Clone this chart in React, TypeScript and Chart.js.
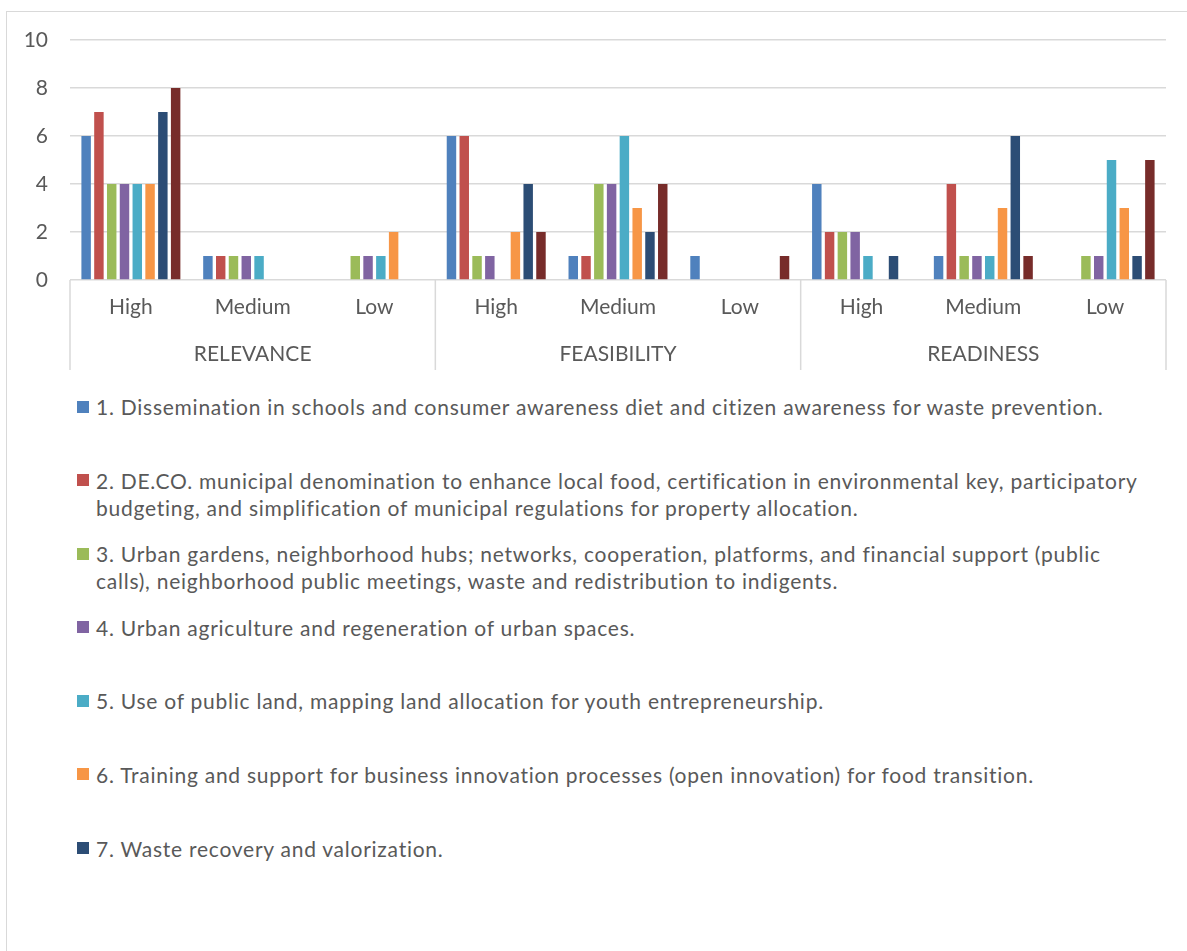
import React, { useEffect, useRef } from "react";
import { Chart, registerables } from "chart.js";

Chart.register(...registerables);

// ---- Data ----
const subCategories = ["High", "Medium", "Low", "High", "Medium", "Low", "High", "Medium", "Low"];
const groups = ["RELEVANCE", "FEASIBILITY", "READINESS"];
const yTicks = [0, 2, 4, 6, 8, 10];

const seriesNames = [
  "1. Dissemination in schools and consumer awareness diet and citizen awareness for waste prevention.",
  "2. DE.CO. municipal denomination to enhance local food, certification in environmental key, participatory budgeting, and simplification of municipal regulations for property allocation.",
  "3. Urban gardens, neighborhood hubs; networks, cooperation, platforms, and financial support (public calls), neighborhood public meetings, waste and redistribution to indigents.",
  "4. Urban agriculture and regeneration of urban spaces.",
  "5. Use of public land, mapping land allocation for youth entrepreneurship.",
  "6. Training and support for business innovation processes (open innovation) for food transition.",
  "7. Waste recovery and valorization.",
  "8.",
];
const legendCount = 7;

const series1 = [6, 1, 0, 6, 1, 1, 4, 1, 0];
const series2 = [7, 1, 0, 6, 1, 0, 2, 4, 0];
const series3 = [4, 1, 1, 1, 4, 0, 2, 1, 1];
const series4 = [4, 1, 1, 1, 4, 0, 2, 1, 1];
const series5 = [4, 1, 1, 0, 6, 0, 1, 1, 5];
const series6 = [4, 0, 2, 2, 3, 0, 0, 3, 3];
const series7 = [7, 0, 0, 4, 2, 0, 1, 6, 1];
const series8 = [8, 0, 0, 2, 4, 1, 0, 1, 5];
const allSeries = [series1, series2, series3, series4, series5, series6, series7, series8];

const colors = ["#4F81BD", "#C0504D", "#9BBB59", "#8064A2", "#4BACC6", "#F79646", "#2C4D75", "#772C2A"];

const TEXT = "#595959";
const GRID = "#d9d9d9";
const FONT = "Lato";

const separatorPlugin = {
  id: "groupSeparators",
  afterDraw(chart: any) {
    const x = chart.scales.x;
    const x2 = chart.scales.x2;
    const ctx = chart.ctx;
    const n = x.getLabels().length;
    const per = n / groups.length;
    ctx.save();
    ctx.strokeStyle = GRID;
    ctx.lineWidth = 1.5;
    for (let g = 0; g <= groups.length; g++) {
      const px = x.left + ((g * per) / n) * x.width;
      ctx.beginPath();
      ctx.moveTo(px, chart.chartArea.bottom);
      ctx.lineTo(px, x2.bottom);
      ctx.stroke();
    }
    ctx.restore();
  },
};

export default function App() {
  const ref = useRef<HTMLCanvasElement | null>(null);

  useEffect(() => {
    if (!ref.current) return;
    const chart = new Chart(ref.current, {
      type: "bar",
      data: {
        labels: subCategories,
        datasets: allSeries.map((d, i) => ({
          label: seriesNames[i],
          data: d,
          backgroundColor: colors[i],
          borderWidth: 0,
          barPercentage: 0.74,
          categoryPercentage: 0.84,
          xAxisID: "x",
          yAxisID: "y",
        })),
      },
      options: {
        responsive: false,
        animation: false,
        devicePixelRatio: 1,
        layout: { padding: { left: 0, right: 21, top: 40, bottom: 10 } },
        plugins: { legend: { display: false }, tooltip: { enabled: false } },
        scales: {
          x: {
            type: "category",
            position: "bottom",
            weight: 0,
            grid: { display: false },
            border: { display: false },
            ticks: { color: TEXT, font: { family: FONT, size: 21 }, padding: 7, maxRotation: 0, autoSkip: false },
            afterFit: (s: any) => { s.height = 50; },
          },
          x2: {
            type: "category",
            labels: groups,
            position: "bottom",
            weight: 1,
            offset: true,
            grid: { display: false },
            border: { display: false },
            ticks: { color: TEXT, font: { family: FONT, size: 21 }, padding: 4, maxRotation: 0, autoSkip: false },
            afterFit: (s: any) => { s.height = 40; },
          },
          y: {
            min: 0,
            max: 10,
            afterBuildTicks: (s: any) => { s.ticks = yTicks.map((v) => ({ value: v })); },
            ticks: { color: TEXT, font: { family: FONT, size: 21 }, padding: 22 },
            grid: { color: GRID, lineWidth: 1.5, drawTicks: false },
            border: { display: false },
            afterFit: (s: any) => { s.width = 70; },
          },
        },
      } as any,
      plugins: [separatorPlugin],
    });
    return () => chart.destroy();
  }, []);

  return (
    <div style={{ position: "absolute", left: 0, top: 0, width: 1187, height: 951, overflow: "hidden", background: "#fff" }}>
      <div style={{ position: "absolute", left: 6, top: 11, width: 1220, height: 1000, border: `1px solid ${GRID}`, boxSizing: "border-box" }} />
      <canvas ref={ref} width={1187} height={380} style={{ position: "absolute", left: 0, top: 0, width: 1187, height: 380 }} />
      <div style={{ position: "absolute", left: 77, top: 393, fontFamily: FONT, fontSize: 21, letterSpacing: "0.75px", color: TEXT }}>
        {seriesNames.slice(0, legendCount).map((name, i) => (
          <div key={i} style={{ display: "flex", alignItems: "flex-start", height: 73.6 }}>
            <div style={{ width: 12, height: 12, background: colors[i], marginTop: 7.5, marginRight: 7, flex: "none" }} />
            <div style={{ width: 1045, lineHeight: "27px" }}>{name}</div>
          </div>
        ))}
      </div>
    </div>
  );
}
